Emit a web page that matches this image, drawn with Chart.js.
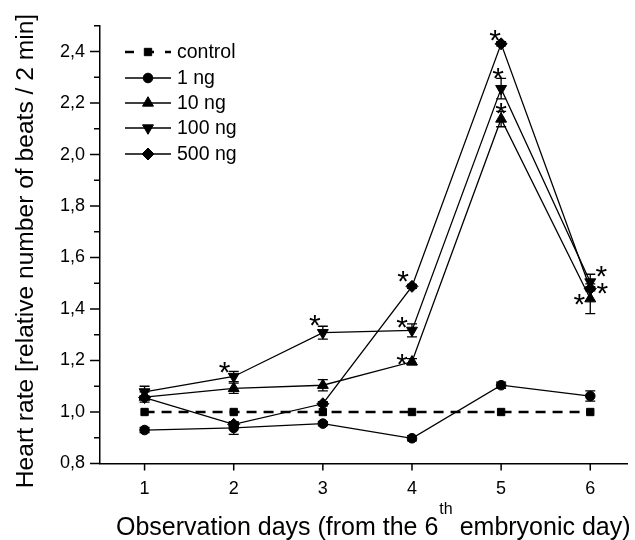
<!DOCTYPE html>
<html>
<head>
<meta charset="utf-8">
<script src="https://cdn.jsdelivr.net/npm/chart.js@4/dist/chart.umd.min.js"></script>
<style>
html, body { margin: 0; padding: 0; background: #fff; }
</style>
</head>
<body>
<canvas id="chart" width="635" height="540"></canvas>
<script>
// values
var days = [1, 2, 3, 4, 5, 6];
var yTicks = [0.8, 1.0, 1.2, 1.4, 1.6, 1.8, 2.0, 2.2, 2.4];
var seriesNames = ['control', '1 ng', '10 ng', '100 ng', '500 ng'];

var control = [1.0, 1.0, 1.0, 1.0, 1.0, 1.0];
var ng1 = [0.93, 0.938, 0.955, 0.898, 1.104, 1.062];
var ng10 = [1.058, 1.092, 1.104, 1.195, 2.138, 1.44];
var ng100 = [1.078, 1.138, 1.308, 1.317, 2.256, 1.505];
var ng500 = [1.056, 0.952, 1.032, 1.488, 2.43, 1.479];

var ng1Err = [0.01, 0.025, 0.008, 0.01, 0.012, 0.02];
var ng10Err = [0.02, 0.02, 0.022, 0.012, 0.03, 0.058];
var ng100Err = [0.022, 0.02, 0.025, 0.025, 0.04, 0.03];
var ng500Err = [0.008, 0.008, 0.008, 0.008, 0.008, 0.008];

// significance marks (1 = asterisk)
var ng10Sig = [0, 0, 0, 1, 1, 1];
var ng100Sig = [0, 1, 1, 1, 1, 1];
var ng500Sig = [0, 0, 0, 1, 1, 1];

var errors = [null, ng1Err, ng10Err, ng100Err, ng500Err];
var sigs = [null, null, ng10Sig, ng100Sig, ng500Sig];

// where each asterisk sits relative to its point (pixels)
var starPos = {
	2: [null, null, null, [-10, -5], [0, -13], [-11, -2]],
	3: [null, [-9, -11], [-8, -15], [-10, -10], [-3, -18], [11, -13]],
	4: [null, null, null, [-9, -12], [-6, -11], [12, -3]]
};

var FONT = 'Arial, "Liberation Sans", Helvetica, sans-serif';
Chart.defaults.font.family = FONT;
Chart.defaults.color = '#000';

function pts(arr) {
	return days.map(function (d, i) { return {x: d, y: arr[i]}; });
}

function series(idx, arr, style) {
	var ds = {
		label: seriesNames[idx],
		data: pts(arr),
		borderColor: '#000',
		borderWidth: 1.3,
		backgroundColor: '#000',
		pointBackgroundColor: '#000',
		pointBorderColor: '#000',
		pointBorderWidth: 1,
		tension: 0,
		fill: false
	};
	for (var k in style) ds[k] = style[k];
	return ds;
}

var datasets = [
	series(0, control, {borderDash: [10, 7], borderWidth: 2.5, pointStyle: 'rect', pointRadius: 5.2}),
	series(1, ng1, {pointStyle: 'circle', pointRadius: 4.8}),
	series(2, ng10, {pointStyle: 'triangle', pointRadius: 6.3}),
	series(3, ng100, {pointStyle: 'triangle', pointRotation: 180, pointRadius: 6.3}),
	series(4, ng500, {pointStyle: 'rectRot', pointRadius: 6})
];

var extras = {
	id: 'extras',
	afterDatasetsDraw: function (chart) {
		var ctx = chart.ctx;
		var xs = chart.scales.x, ys = chart.scales.y;
		ctx.save();
		ctx.strokeStyle = '#000';
		ctx.fillStyle = '#000';
		ctx.lineWidth = 1.3;
		chart.data.datasets.forEach(function (ds, i) {
			var err = errors[i];
			if (!err) return;
			ds.data.forEach(function (p, j) {
				var x = xs.getPixelForValue(p.x);
				var y1 = ys.getPixelForValue(p.y + err[j]);
				var y2 = ys.getPixelForValue(p.y - err[j]);
				ctx.beginPath();
				ctx.moveTo(x, y1); ctx.lineTo(x, y2);
				ctx.moveTo(x - 5, y1); ctx.lineTo(x + 5, y1);
				ctx.moveTo(x - 5, y2); ctx.lineTo(x + 5, y2);
				ctx.stroke();
			});
		});
		// asterisks
		ctx.font = '30px ' + FONT;
		ctx.textAlign = 'center';
		ctx.textBaseline = 'alphabetic';
		chart.data.datasets.forEach(function (ds, i) {
			var sig = sigs[i];
			if (!sig) return;
			ds.data.forEach(function (p, j) {
				if (!sig[j]) return;
				var off = starPos[i][j];
				var x = xs.getPixelForValue(p.x) + off[0];
				var y = ys.getPixelForValue(p.y) + off[1];
				ctx.fillText('*', x, y + 17);
			});
		});
		ctx.restore();
	},
	afterDraw: function (chart) {
		var ctx = chart.ctx;
		var xs = chart.scales.x, ys = chart.scales.y;
		var left = chart.chartArea.left, bottom = chart.chartArea.bottom;
		ctx.save();
		ctx.strokeStyle = '#000';
		ctx.lineWidth = 1.5;
		ctx.beginPath();
		// y ticks, major and minor
		yTicks.forEach(function (v) {
			var y = ys.getPixelForValue(v);
			ctx.moveTo(left - 10, y); ctx.lineTo(left, y);
			var ym = ys.getPixelForValue(v + 0.1);
			ctx.moveTo(left - 6, ym); ctx.lineTo(left, ym);
		});
		days.forEach(function (d) {
			var x = xs.getPixelForValue(d);
			ctx.moveTo(x, bottom); ctx.lineTo(x, bottom + 7);
		});
		ctx.stroke();

		// axis titles
		ctx.fillStyle = '#000';
		ctx.textBaseline = 'alphabetic';
		ctx.font = '25px ' + FONT;
		var t1 = 'Observation days (from the 6';
		var t3 = ' embryonic day)';
		var x0 = 116, base = 535;
		ctx.textAlign = 'left';
		ctx.fillText(t1, x0, base);
		x0 += ctx.measureText(t1).width;
		ctx.font = '16px ' + FONT;
		ctx.fillText('th', x0 + 1, base - 21);
		x0 += ctx.measureText('th').width + 1;
		ctx.font = '25px ' + FONT;
		ctx.fillText(t3, x0, base);

		ctx.save();
		ctx.translate(33, 251);
		ctx.rotate(-Math.PI / 2);
		ctx.textAlign = 'center';
		ctx.font = '24.6px ' + FONT;
		ctx.fillText('Heart rate [relative number of beats / 2 min]', 0, 0);
		ctx.restore();

		// legend
		var rowY = [52, 78, 103, 128, 154];
		ctx.font = '19.5px ' + FONT;
		ctx.textBaseline = 'middle';
		chart.data.datasets.forEach(function (ds, i) {
			var y = rowY[i];
			ctx.save();
			ctx.lineWidth = ds.borderWidth;
			if (ds.borderDash) ctx.setLineDash([9, 11]);
			ctx.beginPath();
			ctx.moveTo(125, y); ctx.lineTo(171, y);
			ctx.stroke();
			ctx.restore();
			ctx.fillStyle = '#000';
			ctx.strokeStyle = '#000';
			ctx.lineWidth = 1;
			Chart.helpers.drawPoint(ctx, {
				pointStyle: ds.pointStyle,
				rotation: ds.pointRotation || 0,
				radius: ds.pointRadius,
				borderWidth: 1
			}, 148, y);
			ctx.fillText(ds.label, 177, y + 1);
		});
		ctx.restore();
	}
};

var ctx = document.getElementById('chart').getContext('2d');
var chart = new Chart(ctx, {
	type: 'line',
	data: { datasets: datasets },
	plugins: [extras],
	options: {
		responsive: false,
		animation: false,
		layout: { padding: { top: 25, left: 0, right: 0, bottom: 0 } },
		plugins: { legend: { display: false }, tooltip: { enabled: false } },
		scales: {
			x: {
				type: 'linear',
				min: 0.5,
				max: 6.42,
				afterBuildTicks: function (s) { s.ticks = days.map(function (v) { return {value: v}; }); },
				afterFit: function (s) { s.height = 76.5; },
				grid: { display: false, drawTicks: false },
				border: { display: true, color: '#000', width: 1.5 },
				ticks: { padding: 15, color: '#000', font: { size: 18 }, maxRotation: 0, callback: function (v) { return String(v); } }
			},
			y: {
				type: 'linear',
				min: 0.8,
				max: 2.5,
				afterBuildTicks: function (s) { s.ticks = yTicks.map(function (v) { return {value: v}; }); },
				afterFit: function (s) { s.width = 100; },
				grid: { display: false, drawTicks: false },
				border: { display: true, color: '#000', width: 1.5 },
				ticks: { padding: 15, color: '#000', font: { size: 18 }, callback: function (v) { return v.toFixed(1).replace('.', ','); } }
			}
		}
	}
});
</script>
</body>
</html>
